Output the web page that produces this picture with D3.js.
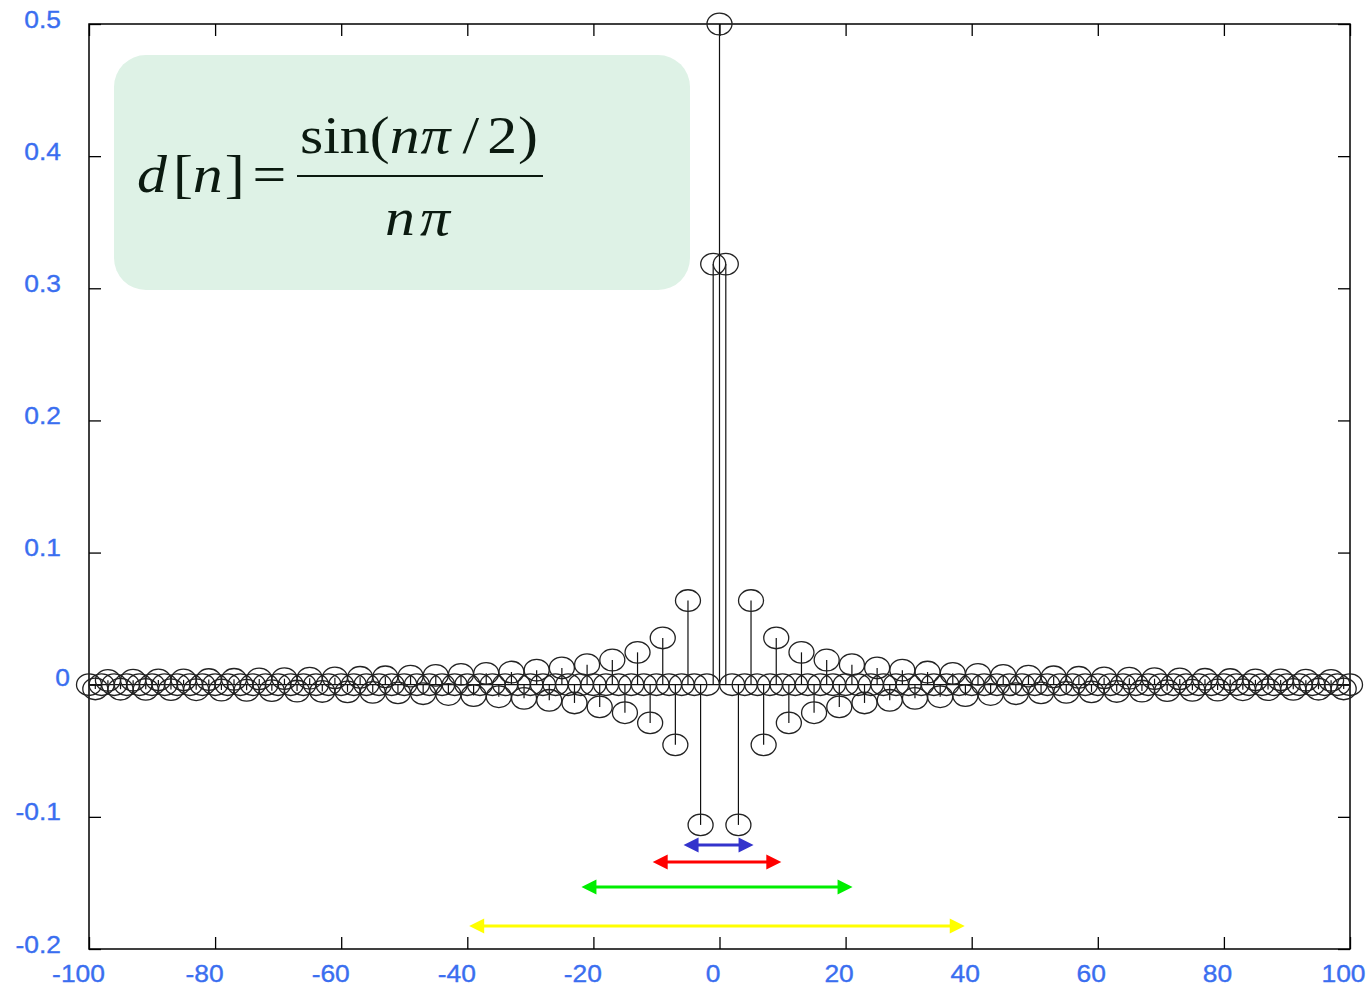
<!DOCTYPE html>
<html><head><meta charset="utf-8">
<script src="https://cdn.jsdelivr.net/npm/d3@7"></script>
<style>body{margin:0;background:#fff} svg{display:block}</style>
</head><body>
<svg id="chart" width="1371" height="987"></svg>
<script>
// ---- data ----
const nValues = d3.range(-100, 101);
const values = [
  0, -0.0032, 0, 0.0033, 0, -0.0034, 0, 0.0034, 0, -0.0035,
  0, 0.0036, 0, -0.0037, 0, 0.0037, 0, -0.0038, 0, 0.0039,
  0, -0.0040, 0, 0.0041, 0, -0.0042, 0, 0.0044, 0, -0.0045,
  0, 0.0046, 0, -0.0048, 0, 0.0049, 0, -0.0051, 0, 0.0052,
  0, -0.0054, 0, 0.0056, 0, -0.0058, 0, 0.0060, 0, -0.0062,
  0, 0.0065, 0, -0.0068, 0, 0.0071, 0, -0.0074, 0, 0.0078,
  0, -0.0082, 0, 0.0086, 0, -0.0091, 0, 0.0096, 0, -0.0103,
  0, 0.0110, 0, -0.0118, 0, 0.0127, 0, -0.0138, 0, 0.0152,
  0, -0.0168, 0, 0.0187, 0, -0.0212, 0, 0.0245, 0, -0.0289,
  0, 0.0354, 0, -0.0455, 0, 0.0637, 0, -0.1061, 0, 0.3183,
  0.5,
  0.3183, 0, -0.1061, 0, 0.0637, 0, -0.0455, 0, 0.0354, 0,
  -0.0289, 0, 0.0245, 0, -0.0212, 0, 0.0187, 0, -0.0168, 0,
  0.0152, 0, -0.0138, 0, 0.0127, 0, -0.0118, 0, 0.0110, 0,
  -0.0103, 0, 0.0096, 0, -0.0091, 0, 0.0086, 0, -0.0082, 0,
  0.0078, 0, -0.0074, 0, 0.0071, 0, -0.0068, 0, 0.0065, 0,
  -0.0062, 0, 0.0060, 0, -0.0058, 0, 0.0056, 0, -0.0054, 0,
  0.0052, 0, -0.0051, 0, 0.0049, 0, -0.0048, 0, 0.0046, 0,
  -0.0045, 0, 0.0044, 0, -0.0042, 0, 0.0041, 0, -0.0040, 0,
  0.0039, 0, -0.0038, 0, 0.0037, 0, -0.0037, 0, 0.0036, 0,
  -0.0035, 0, 0.0034, 0, -0.0034, 0, 0.0033, 0, -0.0032, 0
];
const xTicks = [-100, -80, -60, -40, -20, 0, 20, 40, 60, 80, 100];
const xTickLabels = ["-100", "-80", "-60", "-40", "-20", "0", "20", "40", "60", "80", "100"];
const yTicks = [-0.2, -0.1, 0, 0.1, 0.2, 0.3, 0.4, 0.5];
const yTickLabels = ["-0.2", "-0.1", "0", "0.1", "0.2", "0.3", "0.4", "0.5"];
const arrowColors = ["#3333cc", "#ff0000", "#00ee00", "#ffff00"];
const arrowFrom = [-5.7, -10.6, -21.9, -39.7];
const arrowTo = [5.4, 9.8, 21.1, 38.9];
const arrowLevel = [-0.1213, -0.1342, -0.1531, -0.1826];

// ---- drawing ----
const svg = d3.select("#chart");
const x = d3.scaleLinear().domain([-100, 100]).range([89, 1350]);
const y = d3.scaleLinear().domain([-0.2, 0.5]).range([949, 24]);
const blue = "#3a6ef0";
const sansFont = "'Liberation Sans', Arial, Helvetica, sans-serif";
const sx = 1.1;

function styleAxis(sel) {
  sel.select(".domain").remove();
  sel.selectAll(".tick line").attr("stroke", "#000").attr("stroke-width", 1.3);
}
function styleLabels(sel) {
  sel.attr("fill", blue).attr("stroke", blue).attr("stroke-width", 0.35)
    .style("font-family", sansFont).style("font-size", "24px");
}

// bottom axis
const axB = svg.append("g").attr("transform", `translate(0,${y(-0.2)})`)
  .call(d3.axisBottom(x).tickValues(xTicks).tickSizeInner(-12).tickSizeOuter(0)
    .tickFormat((d, i) => xTickLabels[i]));
styleAxis(axB);
axB.selectAll(".tick text")
  .attr("x", 0).attr("y", 0).attr("dy", null)
  .attr("text-anchor", "middle")
  .attr("transform", d => `translate(${-7 - (d < 0 ? 4 : 0)},33) scale(${sx},1)`)
  .call(styleLabels);

// top axis
const axT = svg.append("g").attr("transform", `translate(0,${y(0.5)})`)
  .call(d3.axisTop(x).tickValues(xTicks).tickSizeInner(-12).tickSizeOuter(0).tickFormat(() => ""));
styleAxis(axT);

// left axis
const axL = svg.append("g").attr("transform", `translate(${x(-100)},0)`)
  .call(d3.axisLeft(y).tickValues(yTicks).tickSizeInner(-12).tickSizeOuter(0)
    .tickFormat((d, i) => yTickLabels[i]));
styleAxis(axL);
axL.selectAll(".tick text")
  .attr("x", 0).attr("y", 0).attr("dy", null)
  .attr("text-anchor", "end")
  .attr("transform", d => d === 0 ? `translate(-19,1) scale(${sx},1)` : `translate(-28,3) scale(${sx},1)`)
  .call(styleLabels);

// right axis
const axR = svg.append("g").attr("transform", `translate(${x(100)},0)`)
  .call(d3.axisRight(y).tickValues(yTicks).tickSizeInner(-12).tickSizeOuter(0).tickFormat(() => ""));
styleAxis(axR);

// frame
svg.append("rect")
  .attr("x", x(-100)).attr("y", y(0.5))
  .attr("width", x(100) - x(-100)).attr("height", y(-0.2) - y(0.5))
  .attr("fill", "none").attr("stroke", "#000").attr("stroke-width", 1.5);

// formula box
svg.append("rect").attr("x", 114).attr("y", 55).attr("width", 576).attr("height", 235)
  .attr("rx", 32).attr("ry", 32).attr("fill", "#def2e6");

const fG = svg.append("g").attr("fill", "#0b1a10")
  .style("font-family", "'Liberation Serif', 'Times New Roman', serif").style("font-size", "52px");
const fsx = 1.15;
// parts: [text, gap before (px on screen), italic]
function formulaLine(startX, baseY, parts) {
  const t = fG.append("text").attr("transform", `translate(${startX},${baseY}) scale(${fsx},1)`)
    .attr("x", 0).attr("y", 0);
  parts.forEach(p => {
    t.append("tspan").attr("dx", p[1] / fsx)
      .style("font-style", p[2] ? "italic" : "normal").text(p[0]);
  });
}
formulaLine(137, 192, [["d", 0, true], ["[", 6, false], ["n", 0, true], ["]", 2, false], ["=", 8, false]]);
formulaLine(300, 153, [["sin(", 0, false], ["n", 0, true], ["\u03C0", 1, true], ["/", 12, false], ["2", 8, false], [")", 1, false]]);
fG.append("line").attr("x1", 297).attr("x2", 543).attr("y1", 176).attr("y2", 176)
  .attr("stroke", "#0b1a10").attr("stroke-width", 2.2);
formulaLine(385, 235, [["n", 0, true], ["\u03C0", 5, true]]);

// baseline
svg.append("line").attr("x1", x(-100)).attr("x2", x(100)).attr("y1", y(0)).attr("y2", y(0))
  .attr("stroke", "#111").attr("stroke-width", 1.3);

const pts = nValues.map((n, i) => ({ n, v: values[i] }));
// stems
svg.append("g").selectAll("line").data(pts.filter(d => d.v !== 0)).join("line")
  .attr("x1", d => x(d.n)).attr("x2", d => x(d.n))
  .attr("y1", y(0)).attr("y2", d => y(d.v))
  .attr("stroke", "#111").attr("stroke-width", 1.2);
// markers
svg.append("g").selectAll("ellipse").data(pts).join("ellipse")
  .attr("cx", d => x(d.n)).attr("cy", d => y(d.v))
  .attr("rx", 12.5).attr("ry", 10.8)
  .attr("fill", "none").attr("stroke", "#222").attr("stroke-width", 1.3);

// arrows
const headL = 15, headW = 7.5;
arrowColors.forEach((c, i) => {
  const x1 = x(arrowFrom[i]), x2 = x(arrowTo[i]), yy = y(arrowLevel[i]);
  const ag = svg.append("g");
  ag.append("line").attr("x1", x1 + headL - 2).attr("x2", x2 - headL + 2).attr("y1", yy).attr("y2", yy)
    .attr("stroke", c).attr("stroke-width", 3);
  ag.append("path").attr("d", `M${x1},${yy} L${x1 + headL},${yy - headW} L${x1 + headL},${yy + headW} Z`).attr("fill", c);
  ag.append("path").attr("d", `M${x2},${yy} L${x2 - headL},${yy - headW} L${x2 - headL},${yy + headW} Z`).attr("fill", c);
});
</script>
</body></html>
